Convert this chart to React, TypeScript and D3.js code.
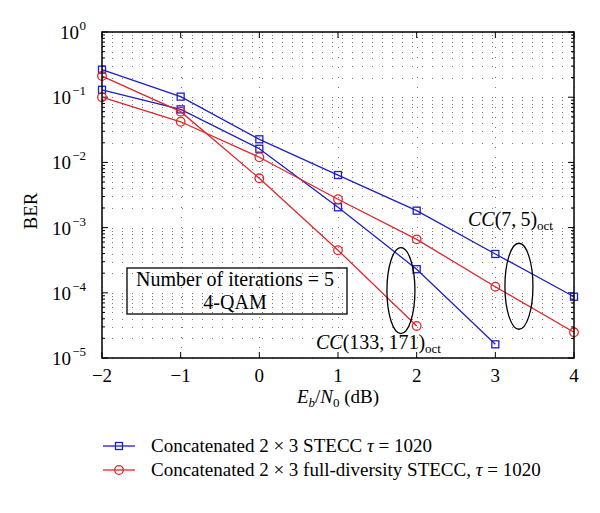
import React from "react";
import * as d3 from "d3";

const ebn0 = [-2, -1, 0, 1, 2, 3, 4];
const stecc75 = [0.265, 0.102, 0.0226, 0.0064, 0.00182, 0.000394, 0.000087];
const stecc133 = [0.13, 0.065, 0.0162, 0.00205, 0.00023, 0.0000162];
const fd75 = [0.1, 0.042, 0.012, 0.00272, 0.00066, 0.000124, 0.0000248];
const fd133 = [0.211, 0.06, 0.0057, 0.00045, 0.000031];
const xTicks = [-2, -1, 0, 1, 2, 3, 4];
const yDecades = [0, -1, -2, -3, -4, -5];
const legendPrefix = ["Concatenated 2 \u00d7 3 STECC ", "Concatenated 2 \u00d7 3 full-diversity STECC, "];
const legendSuffix = " = 1020";

const W = 600, H = 513;
const M = { left: 102, right: 574, top: 32, bottom: 358 };
const BLUE = "#1f1fc8";
const RED = "#e0262a";
const FONT = "'Liberation Serif', 'DejaVu Serif', serif";

export default function App() {
  const x = d3.scaleLinear().domain([-2, 4]).range([M.left, M.right]);
  const y = d3.scaleLog().domain([1e-5, 1]).range([M.bottom, M.top]);
  const line = d3
    .line<[number, number]>()
    .x((d) => x(d[0]))
    .y((d) => y(d[1]));

  const minor: number[] = [];
  for (let e = -5; e < 0; e++) for (let m = 2; m <= 9; m++) minor.push(m * Math.pow(10, e));

  const series = [
    { vals: stecc75, color: BLUE, marker: "square" },
    { vals: stecc133, color: BLUE, marker: "square" },
    { vals: fd75, color: RED, marker: "circle" },
    { vals: fd133, color: RED, marker: "circle" },
  ];

  const gridDash = "1,9";

  return (
    <svg width={W} height={H} style={{ position: "absolute", left: 0, top: 0, background: "#fff" }} fontFamily={FONT}>
      <rect width={W} height={H} fill="#fff" />
      {/* grid */}
      <g stroke="#777" strokeWidth={1} strokeDasharray={gridDash}>
        {[...minor, ...yDecades.map((e) => Math.pow(10, e))].map((v, i) => (
          <line key={"h" + i} x1={M.left} x2={M.right} y1={Math.round(y(v)) + 0.5} y2={Math.round(y(v)) + 0.5} />
        ))}
        {xTicks.map((t) => (
          <line key={"v" + t} x1={Math.round(x(t)) + 0.5} x2={Math.round(x(t)) + 0.5} y1={M.bottom} y2={M.top} />
        ))}
      </g>
      {/* ticks */}
      <g stroke="#000" strokeWidth={1}>
        {minor.map((v, i) => (
          <g key={"mt" + i}>
            <line x1={M.left} x2={M.left + 3} y1={y(v)} y2={y(v)} />
            <line x1={M.right} x2={M.right - 3} y1={y(v)} y2={y(v)} />
          </g>
        ))}
        {yDecades.map((e) => (
          <g key={"yt" + e}>
            <line x1={M.left} x2={M.left + 6} y1={y(Math.pow(10, e))} y2={y(Math.pow(10, e))} />
            <line x1={M.right} x2={M.right - 6} y1={y(Math.pow(10, e))} y2={y(Math.pow(10, e))} />
          </g>
        ))}
        {xTicks.map((t) => (
          <g key={"xt" + t}>
            <line x1={x(t)} x2={x(t)} y1={M.bottom} y2={M.bottom - 6} />
            <line x1={x(t)} x2={x(t)} y1={M.top} y2={M.top + 6} />
          </g>
        ))}
      </g>
      {/* series */}
      {series.map((s, si) => {
        const pts = s.vals.map((v, i) => [ebn0[i], v] as [number, number]);
        return (
          <g key={"s" + si}>
            <path d={line(pts) || ""} fill="none" stroke={s.color} strokeWidth={1.3} />
            {pts.map((p, i) =>
              s.marker === "square" ? (
                <rect key={i} x={x(p[0]) - 3.5} y={y(p[1]) - 3.5} width={7} height={7} fill="none" stroke={s.color} strokeWidth={1.3} />
              ) : (
                <circle key={i} cx={x(p[0])} cy={y(p[1])} r={4.3} fill="none" stroke={s.color} strokeWidth={1.3} />
              )
            )}
          </g>
        );
      })}
      {/* axes box */}
      <rect x={M.left} y={M.top} width={M.right - M.left} height={M.bottom - M.top} fill="none" stroke="#000" strokeWidth={1.5} />
      {/* y tick labels */}
      {yDecades.map((e) => {
        const ty = y(Math.pow(10, e));
        const expW = e === 0 ? 7 : 15;
        return (
          <g key={"yl" + e}>
            <text x={86 - expW} y={ty + 7} textAnchor="end" fontSize={19}>10</text>
            <text x={86} y={ty - 2} textAnchor="end" fontSize={13}>{e === 0 ? "0" : "\u2212" + -e}</text>
          </g>
        );
      })}
      {/* x tick labels */}
      {xTicks.map((t) => (
        <text key={"xl" + t} x={x(t)} y={M.bottom + 24} textAnchor="middle" fontSize={19}>
          {t < 0 ? "\u2212" + -t : String(t)}
        </text>
      ))}
      {/* axis titles */}
      <text transform={`translate(37,211) rotate(-90)`} textAnchor="middle" fontSize={19}>
        BER
      </text>
      <text x={(M.left + M.right) / 2} y={403} textAnchor="middle" fontSize={19}>
        <tspan fontStyle="italic">E</tspan>
        <tspan fontStyle="italic" fontSize={13} dy={4}>b</tspan>
        <tspan dy={-4}>/</tspan>
        <tspan fontStyle="italic">N</tspan>
        <tspan fontSize={13} dy={4}>0</tspan>
        <tspan dy={-4}> (dB)</tspan>
      </text>
      {/* annotation box */}
      <rect x={127} y={268} width={220} height={46} fill="none" stroke="#000" strokeWidth={1.3} />
      <text x={235} y={286} textAnchor="middle" fontSize={20}>Number of iterations = 5</text>
      <text x={235} y={309} textAnchor="middle" fontSize={20}>4-QAM</text>
      {/* ellipses */}
      <ellipse cx={x(1.8)} cy={y(1.08e-4)} rx={14} ry={43} fill="none" stroke="#000" strokeWidth={1.3} />
      <ellipse cx={x(3.3)} cy={y(1.26e-4)} rx={14} ry={43} fill="none" stroke="#000" strokeWidth={1.3} />
      {/* curve labels */}
      <text x={468} y={226} fontSize={20}>
        <tspan fontStyle="italic">CC</tspan>(7,{"\u2009"}5)
        <tspan dy={4} fontSize={13}>oct</tspan>
      </text>
      <text x={316} y={349} fontSize={20}>
        <tspan fontStyle="italic">CC</tspan>(133,{"\u2009"}171)
        <tspan dy={4} fontSize={13}>oct</tspan>
      </text>
      {/* legend */}
      {legendPrefix.map((lab, i) => {
        const ly = 446 + i * 24;
        const c = i === 0 ? BLUE : RED;
        return (
          <g key={"lg" + i}>
            <line x1={103} x2={135} y1={ly} y2={ly} stroke={c} strokeWidth={1.3} />
            {i === 0 ? (
              <rect x={115.5} y={ly - 3.5} width={7} height={7} fill="none" stroke={c} strokeWidth={1.3} />
            ) : (
              <circle cx={119} cy={ly} r={4.3} fill="none" stroke={c} strokeWidth={1.3} />
            )}
            <text x={151} y={ly + 6} fontSize={19} xmlSpace="preserve">
              {lab}
              <tspan fontStyle="italic">{"\u03c4"}</tspan>
              {legendSuffix}
            </text>
          </g>
        );
      })}
    </svg>
  );
}
